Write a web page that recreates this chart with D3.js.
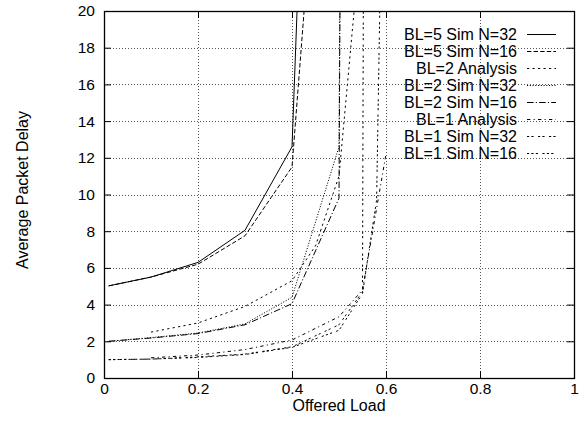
<!DOCTYPE html>
<html>
<head>
<meta charset="utf-8">
<script src="https://cdn.jsdelivr.net/npm/d3@7"></script>
<style>
  body { margin: 0; background: #fff; }
  text { font-family: "Liberation Sans", Arial, sans-serif; }
</style>
</head>
<body>
<div id="chart"></div>
<script>
// series, [offered load, average packet delay]
const bl5N32 = [[0.01, 5.02], [0.1, 5.5], [0.2, 6.3], [0.3, 8.05], [0.4, 12.6], [0.45, 47]];
const bl5N16 = [[0.01, 5.02], [0.1, 5.5], [0.2, 6.2], [0.3, 7.75], [0.4, 11.5], [0.45, 28]];
const bl2Analysis = [[0.1, 2.5], [0.2, 3.0], [0.3, 3.9], [0.4, 5.3], [0.45, 7.2], [0.5, 11], [0.55, 25]];
const bl2N32 = [[0.01, 2.0], [0.1, 2.2], [0.2, 2.45], [0.3, 2.95], [0.4, 4.4], [0.5, 12.6], [0.51, 60]];
const bl2N16 = [[0.01, 2.0], [0.1, 2.18], [0.2, 2.42], [0.3, 2.9], [0.4, 4.05], [0.5, 9.8], [0.51, 60]];
const bl1Analysis = [[0.1, 1.1], [0.2, 1.25], [0.3, 1.55], [0.4, 2.07], [0.5, 3.34], [0.55, 4.8], [0.6, 12.2]];
const bl1N32 = [[0.01, 1.0], [0.1, 1.03], [0.2, 1.15], [0.3, 1.3], [0.4, 1.7], [0.5, 2.9], [0.55, 4.7], [0.6, 450]];
const bl1N16 = [[0.01, 1.0], [0.1, 1.03], [0.2, 1.12], [0.3, 1.28], [0.4, 1.67], [0.5, 2.6], [0.55, 4.6], [0.58, 9.7], [0.59, 25]];

const seriesNames = ["BL=5 Sim N=32", "BL=5 Sim N=16", "BL=2 Analysis", "BL=2 Sim N=32",
    "BL=2 Sim N=16", "BL=1 Analysis", "BL=1 Sim N=32", "BL=1 Sim N=16"];
const seriesData = [bl5N32, bl5N16, bl2Analysis, bl2N32, bl2N16, bl1Analysis, bl1N32, bl1N16];

const xTicks = [0, 0.2, 0.4, 0.6, 0.8, 1];
const yTicks = [0, 2, 4, 6, 8, 10, 12, 14, 16, 18, 20];

// gnuplot style dash patterns, one per line type
const dashes = [null, "4.4,2.2", "2.2,3.3", "1.1,1.65", "6.6,2.2,1.1,2.2",
    "3.3,3.3,1.1,3.3", "2.2,2.2,2.2,4.4", "2.2,2.2,2.2,2.2,2.2,4.4"];

const width = 583, height = 426;
const margin = { top: 11, right: 9, bottom: 48, left: 104 };
const innerWidth = width - margin.left - margin.right;
const innerHeight = height - margin.top - margin.bottom;

const svg = d3.select("#chart")
    .append("svg")
    .attr("width", width)
    .attr("height", height);

const g = svg.append("g")
    .attr("transform", `translate(${margin.left},${margin.top})`);

const xScale = d3.scaleLinear().domain([0, 1]).range([0, innerWidth]);
const yScale = d3.scaleLinear().domain([0, 20]).range([innerHeight, 0]);

g.append("clipPath").attr("id", "clip")
    .append("rect").attr("width", innerWidth).attr("height", innerHeight);

// grid
g.selectAll(".vgrid")
    .data(xTicks.slice(1, -1))
    .enter().append("line")
    .attr("x1", d => Math.round(xScale(d)) + 0.5)
    .attr("x2", d => Math.round(xScale(d)) + 0.5)
    .attr("y1", 0).attr("y2", innerHeight)
    .attr("stroke", "#555").attr("stroke-dasharray", "1,2");

g.selectAll(".hgrid")
    .data(yTicks.slice(1, -1))
    .enter().append("line")
    .attr("y1", d => Math.round(yScale(d)) + 0.5)
    .attr("y2", d => Math.round(yScale(d)) + 0.5)
    .attr("x1", 0).attr("x2", innerWidth)
    .attr("stroke", "#555").attr("stroke-dasharray", "1,2");

// axes, ticks point inward
const fmt = d => d3.format("~g")(d);
g.append("g")
    .attr("transform", `translate(0,${innerHeight})`)
    .call(d3.axisBottom(xScale).tickValues(xTicks).tickFormat(fmt).tickSize(-7).tickPadding(5));
g.append("g")
    .call(d3.axisLeft(yScale).tickValues(yTicks).tickFormat(fmt).tickSize(-7).tickPadding(9));

// mirrored tick marks on top and right, no labels
g.append("g")
    .call(d3.axisTop(xScale).tickValues(xTicks).tickFormat("").tickSize(-7))
    .selectAll("text").remove();
g.append("g")
    .attr("transform", `translate(${innerWidth},0)`)
    .call(d3.axisRight(yScale).tickValues(yTicks).tickFormat("").tickSize(-7))
    .selectAll("text").remove();

g.selectAll(".domain").remove();
g.selectAll(".tick line").attr("stroke", "#000");
g.selectAll(".tick text")
    .style("font-family", "'Liberation Sans', Arial, sans-serif")
    .style("font-size", "15.5px")
    .attr("fill", "#000");

g.append("rect")
    .attr("x", 0.5).attr("y", 0.5)
    .attr("width", innerWidth).attr("height", innerHeight)
    .attr("fill", "none").attr("stroke", "#000").attr("stroke-width", 1.3);

// axis labels
g.append("text")
    .attr("x", innerWidth / 2)
    .attr("y", innerHeight + 33)
    .style("text-anchor", "middle")
    .style("font-size", "16px")
    .text("Offered Load");

g.append("text")
    .attr("transform", "rotate(-90)")
    .attr("x", -190 + margin.top)
    .attr("y", -margin.left + 28)
    .style("text-anchor", "middle")
    .style("font-size", "16px")
    .text("Average Packet Delay");

// lines
const line = d3.line()
    .x(d => xScale(d[0]))
    .y(d => yScale(d[1]));

g.append("g").attr("clip-path", "url(#clip)")
    .selectAll(".series")
    .data(seriesData)
    .enter().append("path")
    .attr("class", "series")
    .attr("d", line)
    .attr("fill", "none")
    .attr("stroke", "#000")
    .attr("stroke-width", 1)
    .attr("stroke-dasharray", (d, i) => dashes[i]);

// legend
const legend = g.append("g")
    .attr("transform", `translate(${517 - margin.left},${34 - margin.top})`);

seriesNames.forEach((name, i) => {
    legend.append("text")
        .attr("x", 0)
        .attr("y", i * 17)
        .attr("dy", "0.36em")
        .style("text-anchor", "end")
        .style("font-size", "16px")
        .text(name);
    legend.append("line")
        .attr("x1", 10).attr("x2", 39)
        .attr("y1", i * 17 + 0.5).attr("y2", i * 17 + 0.5)
        .attr("stroke", "#000")
        .attr("stroke-dasharray", dashes[i]);
});
</script>
</body>
</html>
